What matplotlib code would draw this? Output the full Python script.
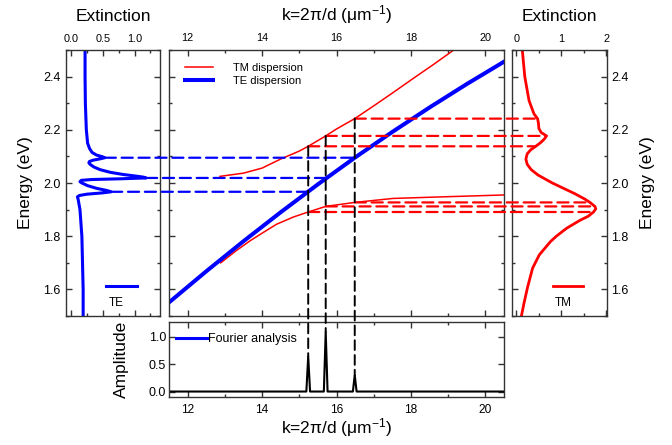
import matplotlib
matplotlib.use("Agg")
import matplotlib.pyplot as plt
from matplotlib.patches import ConnectionPatch
from matplotlib.lines import Line2D
from matplotlib.ticker import MultipleLocator

plt.rcParams['font.family'] = ['Liberation Sans', 'DejaVu Sans']
plt.rcParams['mathtext.default'] = 'regular'

# ---------------- data ----------------
# TE extinction (left panel): energy (eV) vs extinction
te_ext_E = [2.50, 2.40, 2.30, 2.20, 2.15, 2.13, 2.115, 2.105, 2.099, 2.095, 2.091, 2.086,
            2.081, 2.076, 2.070, 2.060, 2.050, 2.040, 2.032, 2.026, 2.022, 2.019, 2.016,
            2.013, 2.010, 2.005, 2.000, 1.990, 1.980, 1.972, 1.967, 1.963, 1.958, 1.953,
            1.948, 1.940, 1.90, 1.80, 1.70, 1.60, 1.50]
te_ext_val = [0.22, 0.22, 0.225, 0.24, 0.26, 0.29, 0.33, 0.40, 0.49, 0.53, 0.46, 0.35,
              0.29, 0.28, 0.30, 0.36, 0.46, 0.62, 0.82, 1.02, 1.14, 1.18, 0.80,
              0.32, 0.16, 0.14, 0.17, 0.26, 0.40, 0.56, 0.63, 0.50, 0.25, 0.13,
              0.10, 0.11, 0.14, 0.17, 0.18, 0.19, 0.19]

# TM extinction (right panel)
tm_ext_E = [2.50, 2.40, 2.31, 2.26, 2.242, 2.225, 2.205, 2.19, 2.177, 2.165, 2.152, 2.138,
            2.125, 2.11, 2.09, 2.07, 2.05, 2.03, 2.00, 1.98, 1.96, 1.94, 1.927, 1.912,
            1.903, 1.891, 1.875, 1.86, 1.83, 1.80, 1.78, 1.73, 1.68, 1.61, 1.55, 1.50]
tm_ext_val = [0.13, 0.185, 0.28, 0.39, 0.47, 0.49, 0.50, 0.55, 0.67, 0.62, 0.54, 0.43,
              0.32, 0.24, 0.21, 0.24, 0.33, 0.48, 0.80, 1.05, 1.30, 1.52, 1.64, 1.75,
              1.77, 1.72, 1.60, 1.42, 1.12, 0.89, 0.76, 0.51, 0.36, 0.25, 0.17, 0.11]

# TE dispersion (main panel)
te_k = [11.5, 12.5, 13.5, 14.5, 15.5, 16.5, 17.5, 18.5, 19.5, 20.5]
te_E = [1.551, 1.668, 1.781, 1.890, 1.995, 2.096, 2.192, 2.284, 2.372, 2.456]

# TM dispersion, upper and lower branches
tm_up_k = [12.87, 13.5, 14.0, 14.5, 15.0, 15.24, 15.71, 16.0, 16.49, 17.0, 17.5, 18.06, 18.6, 19.18]
tm_up_E = [2.025, 2.037, 2.056, 2.090, 2.120, 2.138, 2.177, 2.203, 2.242, 2.290, 2.338, 2.393, 2.445, 2.503]
tm_lo_k = [12.89, 13.3, 13.67, 13.94, 14.39, 14.84, 15.24, 15.71, 16.49, 17.52, 18.86, 20.5]
tm_lo_E = [1.700, 1.745, 1.782, 1.806, 1.845, 1.872, 1.891, 1.912, 1.927, 1.942, 1.948, 1.955]

# Fourier analysis (bottom panel)
four_k = [11.5, 15.19, 15.24, 15.29, 15.66, 15.71, 15.76, 16.44, 16.49, 16.54, 20.5]
four_amp = [0.0, 0.0, 0.64, 0.0, 0.0, 1.09, 0.0, 0.0, 0.30, 0.0, 0.0]

# modes linking the panels
mode_k = [15.24, 15.71, 16.49]
mode_amp = [0.64, 1.09, 0.30]
te_mode_E = [1.967, 2.019, 2.095]
te_mode_ext = [0.63, 1.18, 0.53]
tm_up_mode_E = [2.138, 2.177, 2.242]
tm_up_mode_ext = [0.43, 0.67, 0.47]
tm_lo_mode_E = [1.891, 1.912, 1.927]
tm_lo_mode_ext = [1.72, 1.75, 1.64]

RED = '#FF0000'
BLUE = '#0000FF'
W, H = 672, 445


def rect(x0, y0, x1, y1):
    return [x0 / W, 1 - y1 / H, (x1 - x0) / W, (y1 - y0) / H]


fig = plt.figure(figsize=(6.72, 4.45), dpi=100)
ax_l = fig.add_axes(rect(66, 50, 160, 316))
ax_m = fig.add_axes(rect(169, 50, 504, 316))
ax_r = fig.add_axes(rect(512, 50, 607, 316))
ax_b = fig.add_axes(rect(169, 322, 504, 397))

YT_FS = 9
TOP_FS = 7.8
BOT_FS = 8.6
LAB_FS = 12.5

for ax in (ax_l, ax_m, ax_r, ax_b):
    for s in ax.spines.values():
        s.set_color('#333333')
        s.set_linewidth(1.0)
    ax.tick_params(which='both', direction='in', top=True, bottom=True, left=True, right=True,
                   color='#333333')
    ax.tick_params(which='major', length=4, width=1)
    ax.tick_params(which='minor', length=2.5, width=1)
    ax.tick_params(axis='y', labelsize=YT_FS)

# ---- left panel: TE extinction ----
ax_l.plot(te_ext_val, te_ext_E, color=BLUE, lw=2.2)
ax_l.set_xlim(-0.08, 1.4)
ax_l.set_ylim(1.5, 2.5)
ax_l.xaxis.set_major_locator(MultipleLocator(0.5))
ax_l.xaxis.set_minor_locator(MultipleLocator(0.25))
ax_l.yaxis.set_major_locator(MultipleLocator(0.2))
ax_l.yaxis.set_minor_locator(MultipleLocator(0.1))
ax_l.tick_params(axis='x', labeltop=True, labelbottom=False, labelsize=TOP_FS, pad=4)
ax_l.tick_params(axis='y', pad=4)
ax_l.xaxis.set_label_position('top')
ax_l.set_xlabel('Extinction', fontsize=LAB_FS, labelpad=10)
ax_l.set_ylabel('Energy (eV)', fontsize=LAB_FS, labelpad=7)
ax_l.plot([0.43, 0.75], [0.114, 0.114], transform=ax_l.transAxes, color=BLUE, lw=2.2)
ax_l.text(0.53, 0.05, 'TE', transform=ax_l.transAxes, fontsize=8.5, ha='center', va='center')

# ---- main panel: dispersion ----
ax_m.plot(tm_up_k, tm_up_E, color=RED, lw=1.1, label='TM dispersion')
ax_m.plot(tm_lo_k, tm_lo_E, color=RED, lw=1.1)
ax_m.plot(te_k, te_E, color=BLUE, lw=2.9, label='TE dispersion')
ax_m.set_xlim(11.5, 20.5)
ax_m.set_ylim(1.5, 2.5)
ax_m.xaxis.set_major_locator(MultipleLocator(2))
ax_m.xaxis.set_minor_locator(MultipleLocator(1))
ax_m.yaxis.set_major_locator(MultipleLocator(0.2))
ax_m.yaxis.set_minor_locator(MultipleLocator(0.1))
ax_m.tick_params(axis='x', labeltop=True, labelbottom=False, labelsize=TOP_FS, pad=5)
ax_m.tick_params(axis='y', labelleft=False, labelright=False)
ax_m.xaxis.set_label_position('top')
ax_m.set_xlabel('k=2π/d (μm$^{-1}$)', fontsize=LAB_FS, labelpad=9)
ax_m.legend(loc='upper left', frameon=False, fontsize=8, handlelength=2.5,
            bbox_to_anchor=(0.048, 0.951), borderaxespad=0.0, borderpad=0.0,
            labelspacing=0.25, handletextpad=1.8)

# ---- right panel: TM extinction ----
ax_r.plot(tm_ext_val, tm_ext_E, color=RED, lw=2.0)
ax_r.set_xlim(-0.1, 2.02)
ax_r.set_ylim(1.5, 2.5)
ax_r.xaxis.set_major_locator(MultipleLocator(1))
ax_r.xaxis.set_minor_locator(MultipleLocator(0.5))
ax_r.yaxis.set_major_locator(MultipleLocator(0.2))
ax_r.yaxis.set_minor_locator(MultipleLocator(0.1))
ax_r.tick_params(axis='x', labeltop=True, labelbottom=False, labelsize=TOP_FS, pad=4)
ax_r.tick_params(axis='y', labelleft=False, labelright=True, pad=3)
ax_r.xaxis.set_label_position('top')
ax_r.yaxis.set_label_position('right')
ax_r.set_xlabel('Extinction', fontsize=LAB_FS, labelpad=10)
ax_r.set_ylabel('Energy (eV)', fontsize=LAB_FS, labelpad=8)
ax_r.plot([0.435, 0.75], [0.114, 0.114], transform=ax_r.transAxes, color=RED, lw=2.0)
ax_r.text(0.54, 0.05, 'TM', transform=ax_r.transAxes, fontsize=8.5, ha='center', va='center')

# ---- bottom panel: Fourier analysis ----
ax_b.plot(four_k, four_amp, color='black', lw=1.5)
ax_b.set_xlim(11.5, 20.5)
ax_b.set_ylim(-0.1, 1.27)
ax_b.xaxis.set_major_locator(MultipleLocator(2))
ax_b.xaxis.set_minor_locator(MultipleLocator(1))
ax_b.yaxis.set_major_locator(MultipleLocator(0.5))
ax_b.tick_params(axis='y', labelleft=True, pad=2)
ax_b.tick_params(axis='x', labelbottom=True, labelsize=BOT_FS, pad=5)
ax_b.set_xlabel('k=2π/d (μm$^{-1}$)', fontsize=LAB_FS, labelpad=0)
ax_b.set_ylabel('Amplitude', fontsize=LAB_FS, labelpad=14)
ax_b.legend(handles=[Line2D([], [], color=BLUE, lw=2.2)], labels=['Fourier analysis'],
            loc='upper left', frameon=False, fontsize=9, handlelength=2.5,
            bbox_to_anchor=(0.02, 0.85), borderaxespad=0.0, borderpad=0.0,
            handletextpad=0.05)

# ---- dashed connectors ----
DASH = (0, (5, 2.6))
for k, e, x in zip(mode_k, te_mode_E, te_mode_ext):
    fig.add_artist(ConnectionPatch(xyA=(x, e), coordsA=ax_l.transData, xyB=(k, e),
                                   coordsB=ax_m.transData, color=BLUE, lw=1.6, linestyle=DASH))
for k, e, x in zip(mode_k, tm_up_mode_E, tm_up_mode_ext):
    fig.add_artist(ConnectionPatch(xyA=(k, e), coordsA=ax_m.transData, xyB=(x, e),
                                   coordsB=ax_r.transData, color=RED, lw=1.6, linestyle=DASH))
for k, e, x in zip(mode_k, tm_lo_mode_E, tm_lo_mode_ext):
    fig.add_artist(ConnectionPatch(xyA=(k, e), coordsA=ax_m.transData, xyB=(x, e),
                                   coordsB=ax_r.transData, color=RED, lw=1.6, linestyle=DASH))
for k, e, a in zip(mode_k, tm_up_mode_E, mode_amp):
    fig.add_artist(ConnectionPatch(xyA=(k, e), coordsA=ax_m.transData, xyB=(k, a),
                                   coordsB=ax_b.transData, color='black', lw=1.4, linestyle=DASH))

fig.savefig('out.png', dpi=100)
